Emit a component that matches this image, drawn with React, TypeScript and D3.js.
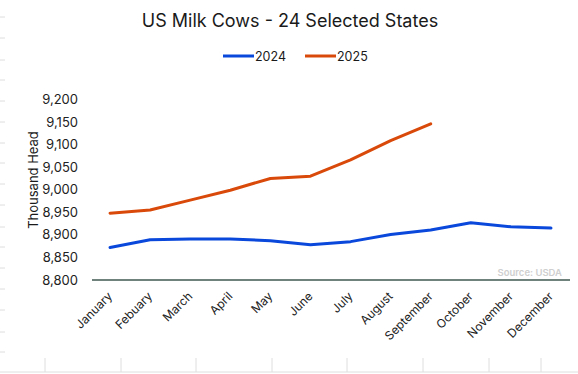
import React from "react";
import * as d3 from "d3";

const months = ["January", "Febuary", "March", "April", "May", "June", "July", "August", "September", "October", "November", "December"];
const milk2024 = [8872, 8889, 8891, 8891, 8887, 8878, 8885, 8901, 8911, 8927, 8918, 8915];
const milk2025 = [8948, 8955, 8977, 8999, 9025, 9030, 9066, 9109, 9146];
const yTicks = [8800, 8850, 8900, 8950, 9000, 9050, 9100, 9150, 9200];
const seriesNames = ["2024", "2025"];
const seriesColors = ["#0a48dc", "#d94a0a"];

// leftover sheet grid marks around the chart
const edgeMarksY = [17, 38, 60, 80, 101, 122, 143, 163, 184, 205, 227, 247, 268, 289, 310, 332, 352];
const bottomMarksX = [45, 121, 196, 272, 347, 423, 489, 541];

const W = 578, H = 374;
const font = "'Inter', 'Open Sans', sans-serif";

export default function App() {
    const x = d3.scaleBand<string>().domain(months).range([90, 571]);
    const y = d3.scaleLinear().domain([8800, 9200]).range([280, 99.5]);
    const cx = (m: string) => (x(m) as number) + x.bandwidth() / 2;

    const line = d3.line<number>()
        .x((d, i) => cx(months[i]))
        .y((d) => y(d));

    const fmt = d3.format(",");

    return (
        <svg width={W} height={H} style={{ position: "absolute", left: 0, top: 0, background: "#fff" }}>
            {edgeMarksY.map((v) => (
                <line key={"e" + v} x1={0} x2={5} y1={v} y2={v} stroke="#dedede" />
            ))}
            {bottomMarksX.map((v) => (
                <line key={"b" + v} x1={v} x2={v} y1={358} y2={372} stroke="#dedede" />
            ))}
            <line x1={0} x2={W} y1={372} y2={372} stroke="#dedede" />

            <text x={290} y={27} textAnchor="middle" fontFamily={font} fontSize={18} fill="#1a1a1a">
                US Milk Cows - 24 Selected States
            </text>

            {seriesNames.map((s, i) => (
                <g key={s} transform={`translate(${223 + i * 82},56)`}>
                    <line x1={0} x2={31} y1={0} y2={0} stroke={seriesColors[i]} strokeWidth={3} />
                    <text x={32} y={4.5} fontFamily={font} fontSize={12.5} fill="#1a1a1a">{s}</text>
                </g>
            ))}

            <text transform="translate(38,180) rotate(-90)" textAnchor="middle" fontFamily={font} fontSize={13} fill="#1a1a1a">
                Thousand Head
            </text>

            {yTicks.map((t) => (
                <text key={t} x={78} y={y(t) + 4.5} textAnchor="end" fontFamily={font} fontSize={13} fill="#222">
                    {fmt(t)}
                </text>
            ))}

            <line x1={92} x2={570} y1={y(8800)} y2={y(8800)} stroke="#3f5a50" strokeWidth={1.5} />

            {months.map((m) => (
                <text key={m} transform={`translate(${cx(m) + 3},${297}) rotate(-45)`} textAnchor="end"
                    fontFamily={font} fontSize={12} fill="#222">
                    {m}
                </text>
            ))}

            <text x={562} y={276} textAnchor="end" fontFamily={font} fontSize={9.5} fontWeight={600} fill="#cfcfcf">
                Source: USDA
            </text>

            <path d={line(milk2024) || ""} fill="none" stroke={seriesColors[0]} strokeWidth={3} strokeLinejoin="round" strokeLinecap="round" />
            <path d={line(milk2025) || ""} fill="none" stroke={seriesColors[1]} strokeWidth={3} strokeLinejoin="round" strokeLinecap="round" />
        </svg>
    );
}
